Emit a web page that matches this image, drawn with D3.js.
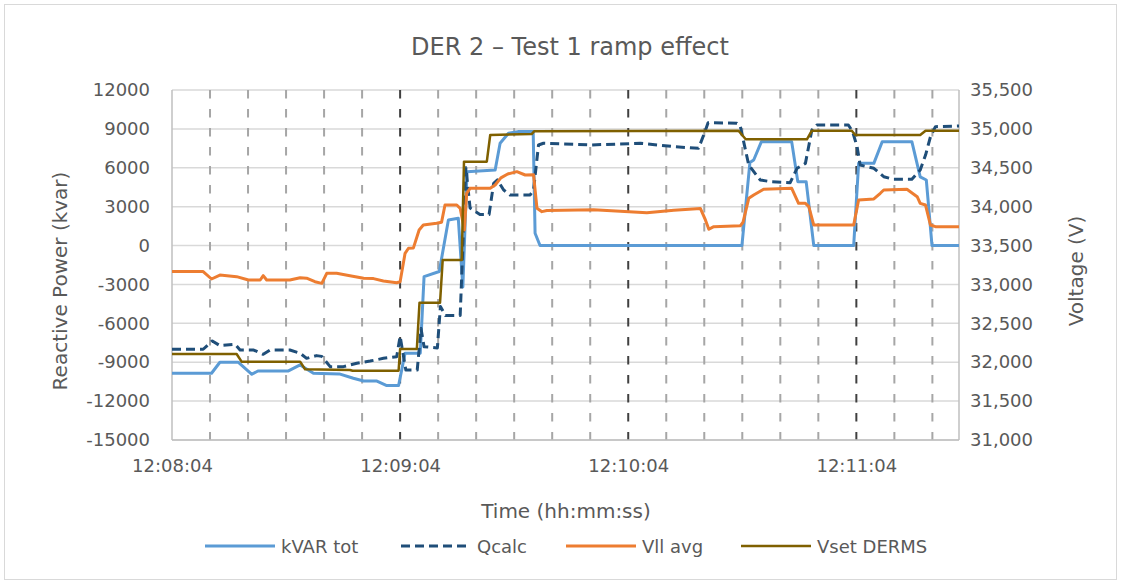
<!DOCTYPE html>
<html>
<head>
<meta charset="utf-8">
<script src="https://cdn.jsdelivr.net/npm/d3@7"></script>
<style>
  html, body { margin: 0; padding: 0; background: #fff; }
  svg text { font-family: "DejaVu Sans", "Liberation Sans", Arial, sans-serif; fill: #595959; }
</style>
</head>
<body>
<svg id="chart" width="1121" height="584"></svg>
<script>
// ---- Data (time offset in seconds from 12:08:04, value) ----
const kvarTot = [
  [0,-9850],[10.4,-9850],[12.6,-9000],[17.4,-9000],[21,-9930],[22.6,-9680],[30.5,-9680],
  [33.7,-9210],[37.2,-9850],[44,-9900],[47.7,-10240],[50.4,-10450],[53.9,-10450],[56.5,-10800],
  [59.6,-10800],[61.3,-8300],[65.3,-8300],[66.3,-2400],[70.3,-2000],[72.7,1970],[75.3,2100],
  [76.5,-3200],[77.6,5700],[85,5830],[86.3,7890],[88.5,8660],[91,8790],[95,8790],[95.5,950],
  [96.8,0],[149.9,0],[152,6400],[153,6600],[155,8000],[163,8000],[164.6,4930],[166.8,4930],
  [168.8,0],[179.3,0],[180.6,6340],[184.6,6340],[186.8,8010],[194.6,8010],[196.8,5300],
  [198.4,5060],[199.9,0],[207,0]
];
const qcalc = [
  [0,-8000],[8.2,-8000],[10.6,-7360],[12.6,-7720],[16.6,-7620],[17.9,-8060],[21.5,-8060],
  [24,-8390],[25.8,-8060],[31,-8060],[33.7,-8310],[35.4,-8700],[38,-8490],[39.4,-8550],
  [41.6,-9340],[45.1,-9340],[48.6,-9080],[52.1,-8910],[55.6,-8700],[59.1,-8570],[60,-7000],
  [61.5,-9600],[64.5,-9600],[65.5,-6400],[66.3,-7800],[69.8,-7900],[70.6,-4700],[71.9,-5400],
  [75.8,-5400],[77.3,6000],[78.4,2900],[81,2400],[83.4,2400],[84.6,4800],[85.6,5060],
  [87.2,4300],[88.9,3900],[94.2,3900],[95.1,4300],[96.4,7760],[97.7,7890],[110,7760],
  [123.2,7890],[132,7630],[138.5,7500],[140.2,8800],[141,9480],[148.6,9430],[149.5,9170],
  [151.7,6210],[154.7,5060],[157.4,4930],[162.6,4850],[164.4,5960],[166.6,6340],[168.3,8910],
  [169.6,9300],[177.9,9300],[179,8800],[180.2,7630],[181,6210],[184.6,5960],[187.2,5310],
  [189.8,5110],[194.6,5110],[196.8,5830],[198.2,6980],[199.5,8400],[200.8,9170],[207,9220]
];
const vllAvg = [
  [0,33165],[8.2,33165],[10.4,33070],[12.6,33120],[17,33100],[20.1,33057],[23.2,33057],
  [24,33113],[24.9,33057],[31,33057],[33.7,33087],[35.4,33080],[37.6,33035],[39.4,33014],
  [40.7,33143],[43.3,33143],[46.8,33113],[50.4,33079],[53,33075],[55.6,33044],[59.1,33022],
  [60,33035],[61.3,33400],[62.2,33465],[63.5,33470],[65,33700],[66.1,33764],[69.6,33786],
  [70.9,33800],[71.8,34021],[74.9,34021],[75.8,33979],[76.9,33700],[77.5,34172],[78.4,34236],
  [83.7,34236],[85,34279],[86.5,34370],[88.3,34420],[90.7,34450],[92.9,34407],[95.1,34410],
  [96,33979],[97.3,33936],[98.6,33950],[110.9,33960],[124.9,33923],[132,33955],[139,33975],
  [140.3,33829],[141.2,33709],[142.5,33743],[149.5,33756],[150.2,33800],[151.7,34107],
  [153,34150],[155.6,34223],[163,34236],[164.8,34043],[166.6,34043],[167.5,34000],
  [168.8,33764],[179.3,33764],[180.6,34086],[184.6,34100],[186.3,34172],[187.2,34214],
  [193.3,34223],[196,34128],[196.8,34043],[198.2,34021],[199.5,33764],[200.8,33743],[207,33743]
];
const vsetDerms = [
  [0,32106],[17,32106],[18.3,32007],[33.7,32007],[35,31909],[46.8,31900],[47.5,31890],
  [59.6,31890],[60,32170],[64.4,32170],[65.1,32766],[70.5,32766],[71.2,33314],[76.2,33314],
  [76.8,34579],[82.8,34579],[83.7,34921],[94.6,34934],[95.3,34970],[149,34977],[150.9,34866],
  [167,34866],[168.3,34977],[178.8,34977],[179.7,34921],[196.8,34921],[198.2,34977],[207,34977]
];
const timeTickOffsets = [0, 60, 120, 180];
const timeTickLabels = ["12:08:04", "12:09:04", "12:10:04", "12:11:04"];
const leftTicks = [-15000,-12000,-9000,-6000,-3000,0,3000,6000,9000,12000];
const rightTicks = [31000,31500,32000,32500,33000,33500,34000,34500,35000,35500];
const seriesNames = ["kVAR tot", "Qcalc", "Vll avg", "Vset DERMS"];

// ---- Layout ----
const svg = d3.select("#chart");
const L = 172, R = 959, T = 90, B = 440;
const x = d3.scaleLinear().domain([0, 207]).range([L, R]);
const yL = d3.scaleLinear().domain([-15000, 12000]).range([B, T]);
const yR = d3.scaleLinear().domain([31000, 35500]).range([B, T]);
const loc = d3.formatLocale({ decimal: ".", thousands: ",", grouping: [3], currency: ["", ""], minus: "-" });

svg.append("rect").attr("x", 4.5).attr("y", 4.5).attr("width", 1112).attr("height", 575)
  .attr("fill", "#fff").attr("stroke", "#d9d9d9").attr("stroke-width", 1);

// horizontal gridlines
svg.append("g").selectAll("line").data(leftTicks).join("line")
  .attr("x1", L).attr("x2", R).attr("y1", d => yL(d)).attr("y2", d => yL(d))
  .attr("stroke", "#d9d9d9").attr("stroke-width", 1.5);

// vertical dashed gridlines
const vgrid = d3.range(10, 207, 10);
svg.append("g").selectAll("line").data(vgrid).join("line")
  .attr("x1", d => x(d)).attr("x2", d => x(d)).attr("y1", T).attr("y2", B)
  .attr("stroke", d => d % 60 === 0 ? "#404040" : "#a6a6a6")
  .attr("stroke-width", 2).attr("stroke-dasharray", "8.5,10.5");

// axis lines
svg.append("line").attr("x1", L).attr("x2", L).attr("y1", T).attr("y2", B).attr("stroke", "#bfbfbf").attr("stroke-width", 1.5);
svg.append("line").attr("x1", R).attr("x2", R).attr("y1", T).attr("y2", B).attr("stroke", "#bfbfbf").attr("stroke-width", 1.5);
svg.append("line").attr("x1", L).attr("x2", R).attr("y1", B).attr("y2", B).attr("stroke", "#bfbfbf").attr("stroke-width", 1.5);

// axes labels via d3 axes
const axL = d3.axisLeft(yL).tickValues(leftTicks).tickSize(0).tickPadding(22).tickFormat(loc.format("d"));
const gL = svg.append("g").attr("transform", `translate(${L},0)`).call(axL);
const axR = d3.axisRight(yR).tickValues(rightTicks).tickSize(0).tickPadding(11).tickFormat(loc.format(",d"));
const gR = svg.append("g").attr("transform", `translate(${R},0)`).call(axR);
const axB = d3.axisBottom(x).tickValues(timeTickOffsets).tickSize(0).tickPadding(19)
  .tickFormat((d, i) => timeTickLabels[i]);
const gB = svg.append("g").attr("transform", `translate(0,${B})`).call(axB);
[gL, gR, gB].forEach(g => {
  g.select(".domain").remove();
  g.selectAll("text").attr("font-size", 18).attr("fill", "#595959")
    .attr("font-family", "DejaVu Sans, Liberation Sans, Arial, sans-serif");
});

// series lines
const lineL = d3.line().x(d => x(d[0])).y(d => yL(d[1]));
const lineR = d3.line().x(d => x(d[0])).y(d => yR(d[1]));
const styles = [
  { data: kvarTot, gen: lineL, color: "#5b9bd5", w: 3, dash: null },
  { data: qcalc, gen: lineL, color: "#1f4e79", w: 3, dash: "9,5" },
  { data: vllAvg, gen: lineR, color: "#ed7d31", w: 3, dash: null },
  { data: vsetDerms, gen: lineR, color: "#7f6000", w: 2.5, dash: null }
];
styles.forEach(s => {
  svg.append("path").datum(s.data).attr("d", s.gen)
    .attr("fill", "none").attr("stroke", s.color).attr("stroke-width", s.w)
    .attr("stroke-linejoin", "round").attr("stroke-dasharray", s.dash);
});

// titles
svg.append("text").attr("x", 570).attr("y", 55).attr("text-anchor", "middle")
  .attr("font-size", 24).text("DER 2 – Test 1 ramp effect");
svg.append("text").attr("transform", "translate(67,281) rotate(-90)").attr("text-anchor", "middle")
  .attr("font-size", 20).text("Reactive Power (kvar)");
svg.append("text").attr("transform", "translate(1083,271) rotate(-90)").attr("text-anchor", "middle")
  .attr("font-size", 20).text("Voltage (V)");
svg.append("text").attr("x", 566).attr("y", 518).attr("text-anchor", "middle")
  .attr("font-size", 20).text("Time (hh:mm:ss)");

// legend
const legX = [205, 401, 566, 741];
const lg = svg.append("g").selectAll("g").data(styles).join("g")
  .attr("transform", (d, i) => `translate(${legX[i]},546)`);
lg.append("line").attr("x1", 0).attr("x2", 70).attr("y1", 0).attr("y2", 0)
  .attr("stroke", d => d.color).attr("stroke-width", d => d.w).attr("stroke-dasharray", d => d.dash);
lg.append("text").attr("x", 76).attr("y", 7).attr("font-size", 18).text((d, i) => seriesNames[i]);
</script>
</body>
</html>
